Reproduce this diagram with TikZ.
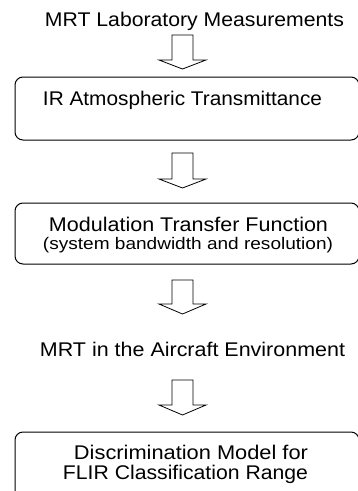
\documentclass[tikz,border=0pt]{standalone}
\usepackage{fontspec}
\setmainfont{Liberation Sans}
\usepackage{graphicx}
\newcommand\wfit[2]{\resizebox{#1}{\height}{#2}}
\newcommand\barrow[4]{%
  \draw[blockarr] (#1-10.5,#2) -- (#1+10.5,#2) -- (#1+10.5,#3) -- (#1+23.5,#3)
    -- (#1,#4) -- (#1-23.5,#3) -- (#1-10.5,#3) -- cycle;}
\begin{document}
\begin{tikzpicture}[x=1pt,y=-1pt,
  txt/.style={inner sep=0pt, anchor=base, font=\fontsize{19.8}{22}\selectfont},
  smalltxt/.style={inner sep=0pt, anchor=base, font=\fontsize{16.8}{19}\selectfont},
  box/.style={draw=black, line width=1pt, rounded corners=8pt, inner sep=0pt},
  blockarr/.style={draw=black, line width=0.8pt, line join=miter}]
\useasboundingbox (0,0) rectangle (358,491);
% boxes
\node[box, minimum width=344pt, minimum height=63pt] (b1) at (187,108.5) {};
\node[box, minimum width=344pt, minimum height=61pt] (b2) at (187,233.5) {};
\node[box, minimum width=344pt, minimum height=88pt] (b4) at (187,476) {};
% texts
\node[txt] (t1) at (194.5,26.5) {\wfit{299pt}{MRT Laboratory Measurements}};
\node[txt] (l1) at (182.5,105.8) {\wfit{279pt}{IR Atmospheric Transmittance}};
\node[txt] (l2a) at (188.5,231.5) {\wfit{279pt}{Modulation Transfer Function}};
\node[smalltxt] (l2b) at (188,249) {\wfit{290pt}{(system bandwidth and resolution)}};
\node[txt] (t2) at (192.5,356.5) {\wfit{305pt}{MRT in the Aircraft Environment}};
\node[txt] (l4a) at (191,459) {\wfit{234pt}{Discrimination Model for}};
\node[txt] (l4b) at (185.5,479.5) {\wfit{245pt}{FLIR Classification Range}};
% block arrows
\barrow{182.5}{35}{60}{69}
\barrow{182.5}{153}{179}{188}
\barrow{182.5}{280}{304}{314}
\barrow{182.5}{380}{405}{415}
\end{tikzpicture}
\end{document}
